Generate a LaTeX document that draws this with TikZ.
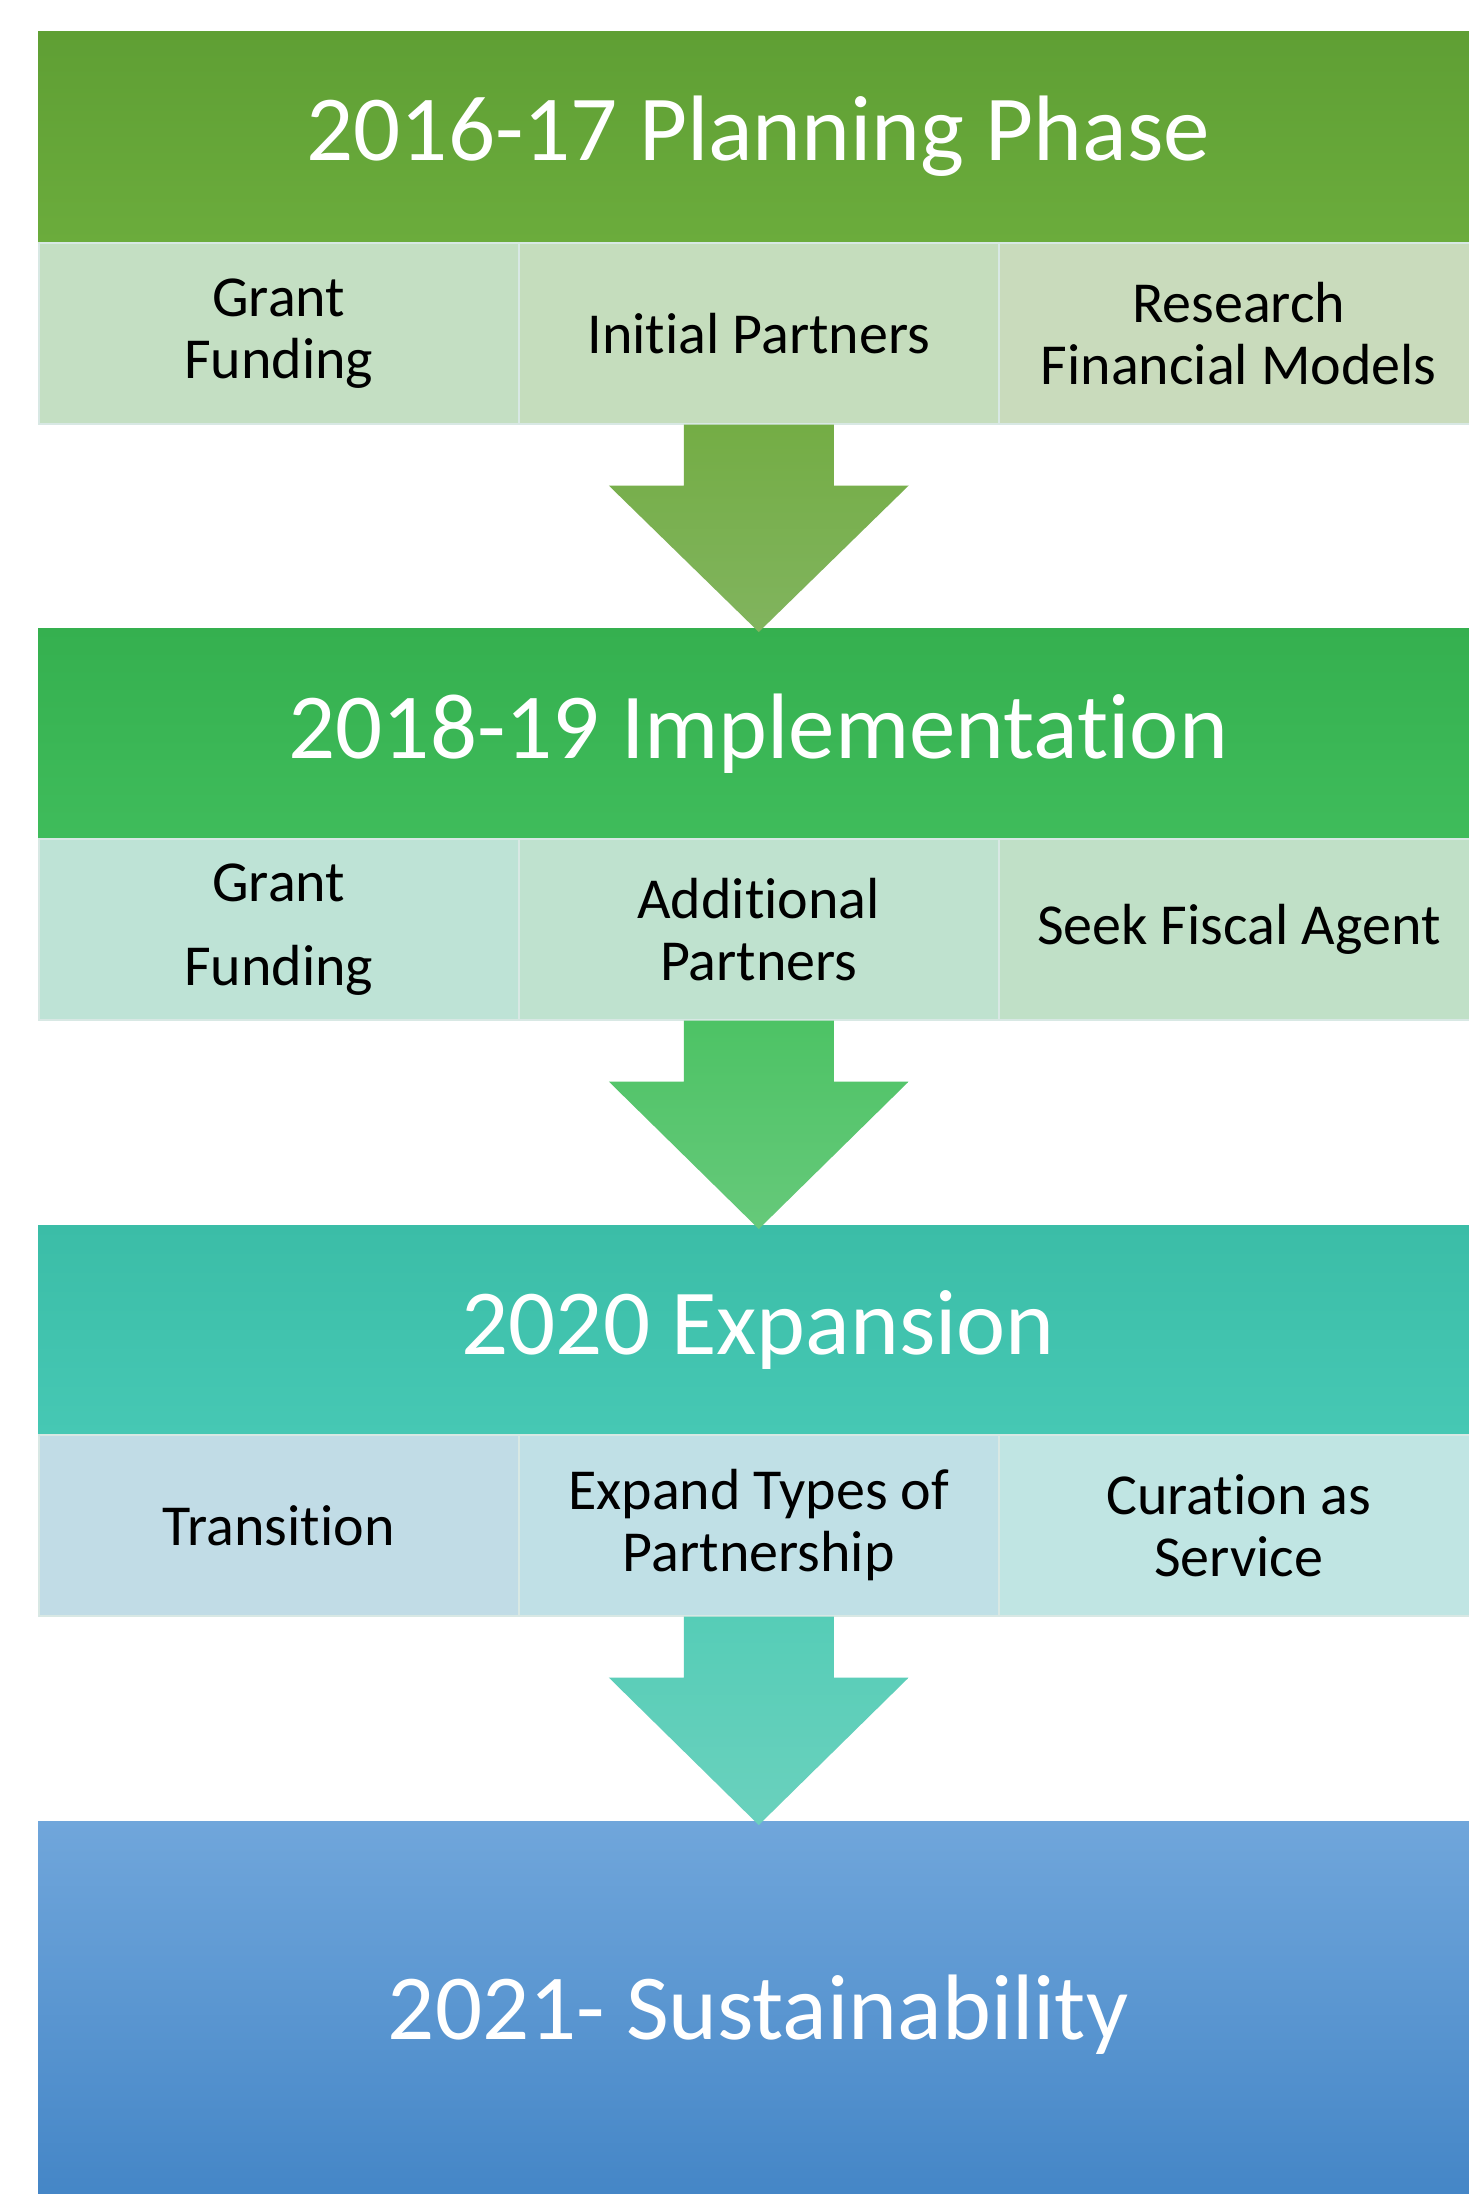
\documentclass[tikz,border=0pt]{standalone}
\usepackage{fontspec}
\setmainfont{Carlito}[Ligatures=NoCommon]
\usetikzlibrary{calc}
\definecolor{gAtop}{HTML}{5F9F34}
\definecolor{gAbot}{HTML}{6BAC3C}
\definecolor{cA1}{HTML}{C4DFC3}
\definecolor{cA2}{HTML}{C5DDBD}
\definecolor{cA3}{HTML}{C9DBBC}
\definecolor{aAtop}{HTML}{74AD45}
\definecolor{aAbot}{HTML}{81B45E}
\definecolor{gBtop}{HTML}{35B04F}
\definecolor{gBbot}{HTML}{3FBC5B}
\definecolor{cB1}{HTML}{BEE3D6}
\definecolor{cB2}{HTML}{BFE2CF}
\definecolor{cB3}{HTML}{C0E0C7}
\definecolor{aBtop}{HTML}{4DC365}
\definecolor{aBbot}{HTML}{66C97A}
\definecolor{gCtop}{HTML}{3BBDA7}
\definecolor{gCbot}{HTML}{46C8B4}
\definecolor{cC1}{HTML}{C1DCE6}
\definecolor{cC2}{HTML}{C0E0E6}
\definecolor{cC3}{HTML}{C0E5E3}
\definecolor{aCtop}{HTML}{56CDB7}
\definecolor{aCbot}{HTML}{6AD1BD}
\definecolor{bDtop}{HTML}{70A6DB}
\definecolor{bDmid}{HTML}{5B9EDC}
\definecolor{bDbot}{HTML}{4385C6}
\definecolor{cellline}{HTML}{D8E8E4}
\newcommand{\blockarrow}[4]{%
  \path[top color=#3,bottom color=#4] let \p1=(#1.south), \p2=(#2.north) in
    (\x1-75pt,\y1) -- (\x1+75pt,\y1) -- (\x1+75pt,\y1-61pt) -- (\x1+150pt,\y1-61pt)
    -- (\x1,\y2-4pt) -- (\x1-150pt,\y1-61pt) -- (\x1-75pt,\y1-61pt) -- cycle;}
\begin{document}
\begin{tikzpicture}[x=1pt,y=-1pt,
  header/.style={anchor=north west, minimum width=1440pt, inner sep=0pt,
    text=white, font=\fontsize{93}{112}\selectfont},
  cell/.style={anchor=north west, minimum width=480pt, minimum height=181pt,
    inner sep=0pt, align=center, font=\fontsize{58}{62}\selectfont,
    draw=cellline, line width=1.5pt}]
\useasboundingbox[fill=white] (0,0) rectangle (1468,2194);
% stage 1
\node[header, minimum height=211pt, top color=gAtop, bottom color=gAbot] (h1) at (38,31) {2016-17 Planning Phase};
\node[cell, fill=cA1] (c11) at (38,242) {Grant\\Funding};
\node[cell, fill=cA2] (c12) at (518,242) {Initial Partners};
\node[cell, fill=cA3] (c13) at (998,242) {Research\\Financial Models};
% stage 2
\node[header, minimum height=210pt, top color=gBtop, bottom color=gBbot] (h2) at (38,628) {2018-19 Implementation};
\node[cell, fill=cB1] (c21) at (38,838) {Grant\\[22pt]Funding};
\node[cell, fill=cB2] (c22) at (518,838) {Additional\\Partners};
\node[cell, fill=cB3] (c23) at (998,838) {Seek Fiscal Agent};
% stage 3
\node[header, minimum height=209pt, top color=gCtop, bottom color=gCbot] (h3) at (38,1225) {2020 Expansion};
\node[cell, fill=cC1] (c31) at (38,1434) {Transition};
\node[cell, fill=cC2] (c32) at (518,1434) {Expand Types of\\Partnership};
\node[cell, fill=cC3] (c33) at (998,1434) {Curation as\\Service};
% stage 4
\node[header, minimum height=386pt, top color=bDtop, middle color=bDmid, bottom color=bDbot] (h4) at (38,1821) {2021- Sustainability};
% arrows
\blockarrow{c12}{h2}{aAtop}{aAbot}
\blockarrow{c22}{h3}{aBtop}{aBbot}
\blockarrow{c32}{h4}{aCtop}{aCbot}
\end{tikzpicture}
\end{document}
